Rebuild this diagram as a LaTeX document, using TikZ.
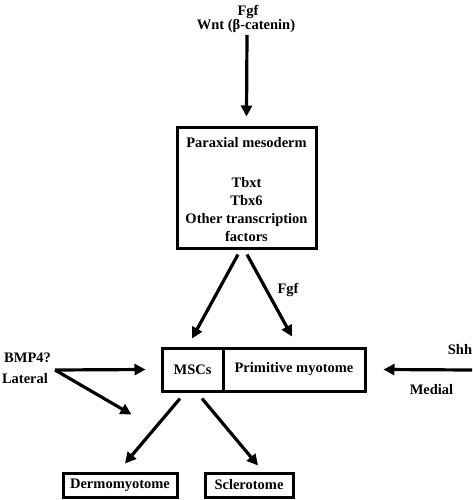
\documentclass[tikz,border=0pt]{standalone}
\usepackage{fontspec}
\setmainfont{Liberation Serif}
\usetikzlibrary{arrows.meta}
\begin{document}
\begin{tikzpicture}[x=1pt,y=-1pt,
  every node/.style={font=\fontsize{14.5}{18}\selectfont\bfseries, inner sep=0pt},
  box/.style={draw, line width=3pt, align=center},
  lbl/.style={},
  arr/.style={line width=3.2pt, -{Triangle[length=11pt,width=11pt]}}]
\useasboundingbox (0,0) rectangle (473,500);
% top labels
\node[lbl] (fgf) at (248,12) {Fgf};
\node[lbl] (wnt) at (246,26) {Wnt (β-catenin)};
\coordinate (topstart) at (247,35);
% paraxial mesoderm box
\node[box, minimum width=139pt, minimum height=121pt] (pm) at (246.5,187.5) {};
\node[lbl] (pmt1) at (246.5,143) {Paraxial mesoderm};
\node[lbl, align=center, anchor=north] (pmt2) at (246.5,177) {Tbxt\\Tbx6\\Other transcription\\factors};
% middle boxes
\node[box, minimum width=61pt, minimum height=43pt] (msc) at (192.5,369.5) {MSCs};
\node[box, minimum width=142pt, minimum height=43pt] (prim) at (294,369.5) {Primitive myotome};
% bottom boxes
\node[box, minimum width=114pt, minimum height=24pt] (dm) at (120,485) {Dermomyotome};
\node[box, minimum width=88pt, minimum height=24pt] (scl) at (249,485) {Sclerotome};
% side labels
\node[lbl] (bmp) at (27.5,358) {BMP4?};
\node[lbl] (lat) at (25,379) {Lateral};
\coordinate (latstart) at (55,370);
\node[lbl] (shh) at (460,350) {Shh};
\node[lbl] (med) at (431.5,390) {Medial};
\coordinate (shhstart) at (472,370);
\node[lbl] (fgf2) at (288,290) {Fgf};
% arrows
\draw[arr] (topstart) -- ([yshift=9pt]pm.north);
\draw[arr] ([xshift=-8.5pt,yshift=-5pt]pm.south) -- ([xshift=-0.5pt,yshift=8pt]msc.north);
\draw[arr] ([xshift=0.5pt,yshift=-5pt]pm.south) -- ([xshift=-2pt,yshift=10pt]prim.north);
\draw[arr] (latstart) -- ([xshift=-15pt]msc.west);
\draw[arr] (latstart) -- ([xshift=-29pt,yshift=-22pt]msc.south west);
\draw[arr] ([xshift=-12.5pt,yshift=-6pt]msc.south) -- ([xshift=5pt,yshift=8pt]dm.north);
\draw[arr] ([xshift=9.5pt,yshift=-6pt]msc.south) -- ([xshift=9pt,yshift=6pt]scl.north);
\draw[arr] (shhstart) -- ([xshift=17pt]prim.east);
\end{tikzpicture}
\end{document}
